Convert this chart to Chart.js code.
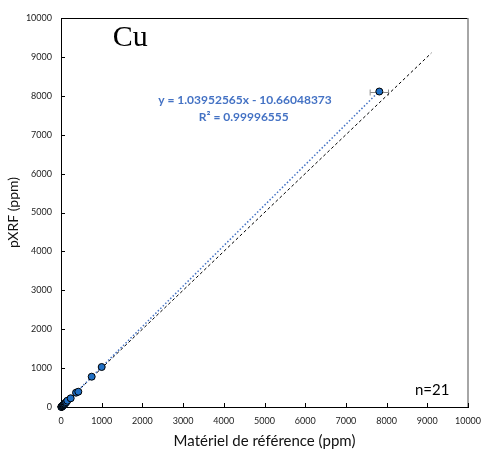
<!DOCTYPE html>
<html>
<head>
<meta charset="utf-8">
<script src="https://cdn.jsdelivr.net/npm/chart.js@4.4.1/dist/chart.umd.min.js"></script>
<style>
  html, body { margin: 0; padding: 0; background: #fff; }
  #wrap { width: 482px; height: 453px; }
</style>
</head>
<body>
<div id="wrap"><canvas id="c" width="482" height="453"></canvas></div>
<script>
// ---- data ----
const refX  = [8, 12, 18, 20, 25, 30, 42, 48, 55, 60, 75, 90, 110, 130, 155, 238, 369, 425, 754, 1000, 7821];
const pxrf  = [2, 4, 9, 11, 16, 21, 33, 40, 47, 52, 68, 83, 104, 125, 162, 224, 368, 393, 779, 1028, 8110];
const errX  = [0, 0, 0, 0, 0, 0, 0, 0, 0, 0, 0, 0, 0, 0, 0, 0, 0, 0, 0, 0, 225];
const slope = 1.03952565;
const intercept = -10.66048373;
const trendRange = [0, 7821];
const identityRange = [0, 9100];
const tickValues = [0, 1000, 2000, 3000, 4000, 5000, 6000, 7000, 8000, 9000, 10000];
const eqText = 'y = 1.03952565x - 10.66048373';
const r2Text = 'R² = 0.99996555';
const elementLabel = 'Cu';
const nText = 'n=21';

const points = refX.map((x, i) => ({ x: x, y: pxrf[i] }));
const trend = trendRange.map(x => ({ x: x, y: slope * x + intercept }));
const identity = identityRange.map(v => ({ x: v, y: v }));

const decor = {
  id: 'decor',
  beforeDatasetsDraw(chart) {
    const { ctx, scales: { x, y } } = chart;
    ctx.save();
    ctx.strokeStyle = '#8c8c8c';
    ctx.lineWidth = 1;
    errX.forEach((e, i) => {
      if (!e) return;
      const py = Math.round(y.getPixelForValue(pxrf[i])) + 0.5;
      const x1 = x.getPixelForValue(refX[i] - e);
      const x2 = x.getPixelForValue(refX[i] + e);
      ctx.beginPath();
      ctx.moveTo(x1, py); ctx.lineTo(x2, py);
      ctx.moveTo(x1, py - 3); ctx.lineTo(x1, py + 3);
      ctx.moveTo(x2, py - 3); ctx.lineTo(x2, py + 3);
      ctx.stroke();
    });
    ctx.restore();
  },
  afterDatasetsDraw(chart) {
    const { ctx, chartArea: a, scales: { x, y } } = chart;
    ctx.save();
    // frame: top black, right gray
    ctx.lineWidth = 1;
    ctx.strokeStyle = '#000';
    ctx.beginPath();
    ctx.moveTo(a.left, a.top + 0.5); ctx.lineTo(a.right, a.top + 0.5);
    ctx.stroke();
    ctx.strokeStyle = '#888';
    ctx.lineWidth = 1.5;
    ctx.beginPath();
    ctx.moveTo(a.right, a.top); ctx.lineTo(a.right, a.bottom);
    ctx.stroke();
    // inward ticks
    ctx.strokeStyle = '#000';
    ctx.lineWidth = 1;
    ctx.beginPath();
    tickValues.forEach(v => {
      if (v === 0) return;
      const py = Math.round(y.getPixelForValue(v)) + 0.5;
      ctx.moveTo(a.left, py); ctx.lineTo(a.left + 4, py);
      const px = Math.round(x.getPixelForValue(v)) + 0.5;
      ctx.moveTo(px, a.bottom); ctx.lineTo(px, a.bottom - 4);
    });
    ctx.stroke();
    // texts
    ctx.textAlign = 'center';
    ctx.textBaseline = 'middle';
    ctx.fillStyle = '#000';
    ctx.font = '30px "Liberation Serif", "DejaVu Serif", serif';
    ctx.fillText(elementLabel, x.getPixelForValue(1700), y.getPixelForValue(9480));
    ctx.fillStyle = '#4472C4';
    ctx.font = 'bold 12px Lato, "Liberation Sans", sans-serif';
    ctx.fillText(eqText, x.getPixelForValue(4520), y.getPixelForValue(7890));
    ctx.fillText(r2Text, x.getPixelForValue(4490), y.getPixelForValue(7455));
    ctx.fillStyle = '#000';
    ctx.font = '15px Lato, "Liberation Sans", sans-serif';
    ctx.fillText(nText, x.getPixelForValue(9120), y.getPixelForValue(440));
    ctx.restore();
  }
};

new Chart(document.getElementById('c'), {
  type: 'scatter',
  data: {
    datasets: [
      {
        label: 'Cu',
        data: points,
        backgroundColor: '#1f6fc5',
        borderColor: '#000',
        borderWidth: 1,
        pointRadius: 3.5,
        clip: false,
        order: 0
      },
      {
        type: 'line',
        label: 'trend',
        data: trend,
        borderColor: '#4472C4',
        borderWidth: 1.5,
        borderDash: [1.5, 2],
        pointRadius: 0,
        fill: false,
        order: 1
      },
      {
        type: 'line',
        label: '1:1',
        data: identity,
        borderColor: '#000',
        borderWidth: 1,
        borderDash: [3, 2.5],
        pointRadius: 0,
        fill: false,
        order: 2
      }
    ]
  },
  options: {
    responsive: false,
    animation: false,
    layout: { padding: { top: 18, right: 14, left: 0, bottom: 0 } },
    plugins: { legend: { display: false }, tooltip: { enabled: false } },
    scales: {
      x: {
        type: 'linear',
        min: 0, max: 10000,
        afterFit(s) { s.height = 46; s.paddingLeft = 0; s.paddingRight = 0; },
        afterBuildTicks(s) { s.ticks = tickValues.map(v => ({ value: v })); },
        grid: { display: false, drawTicks: false },
        border: { display: true, color: '#000', width: 1 },
        ticks: { padding: 9, color: '#222', font: { family: 'Lato', size: 9 }, maxRotation: 0,
                 callback: v => String(v) },
        title: { display: true, text: 'Matériel de référence (ppm)', color: '#111',
                 font: { family: 'Lato', size: 15 }, padding: { top: 0, bottom: 3 } }
      },
      y: {
        type: 'linear',
        min: 0, max: 10000,
        afterFit(s) { s.width = 61; s.paddingTop = 0; s.paddingBottom = 0; },
        afterBuildTicks(s) { s.ticks = tickValues.map(v => ({ value: v })); },
        grid: { display: false, drawTicks: false },
        border: { display: true, color: '#000', width: 1 },
        ticks: { padding: 9, color: '#222', font: { family: 'Lato', size: 9 },
                 callback: v => String(v) },
        title: { display: true, text: 'pXRF (ppm)', color: '#111',
                 font: { family: 'Lato', size: 14 }, padding: { top: 5, bottom: 0 } }
      }
    }
  },
  plugins: [decor]
});
</script>
</body>
</html>
